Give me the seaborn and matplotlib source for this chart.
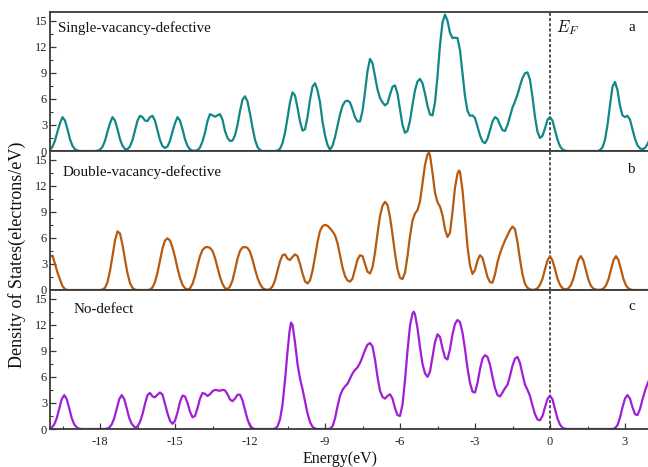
import numpy as np
import pandas as pd
import matplotlib
matplotlib.use("Agg")
import matplotlib.pyplot as plt
import seaborn as sns
from matplotlib.ticker import MultipleLocator

# ---------------- data ----------------
panel_names = ["Single-vacancy-defective", "Double-vacancy-defective", "No-defect"]
panel_letters = ["a", "b", "c"]

single_energy = [
    -20.0, -19.9, -19.8, -19.7, -19.6, -19.5, -19.4, -19.3, -19.2, -19.1, -19.0, -18.9, -18.8,
    -18.2, -18.1, -18.0, -17.9, -17.8, -17.7, -17.6, -17.5, -17.4, -17.3, -17.2, -17.1, -17.0,
    -16.9, -16.8, -16.7, -16.6, -16.5, -16.4, -16.3, -16.2, -16.1, -16.0, -15.9, -15.8, -15.7,
    -15.6, -15.5, -15.4, -15.3, -15.2, -15.1, -15.0, -14.9, -14.8, -14.7, -14.6, -14.5, -14.4,
    -14.3, -14.2, -14.1, -14.0, -13.9, -13.8, -13.7, -13.6, -13.5, -13.4, -13.3, -13.2, -13.1,
    -13.0, -12.9, -12.8, -12.7, -12.6, -12.5, -12.4, -12.3, -12.2, -12.1, -12.0, -11.9, -11.8,
    -11.7, -11.6, -11.5, -11.0, -10.9, -10.8, -10.7, -10.6, -10.5, -10.4, -10.3, -10.2, -10.1,
    -10.0, -9.9, -9.8, -9.7, -9.6, -9.5, -9.4, -9.3, -9.2, -9.1, -9.0, -8.9, -8.8, -8.7, -8.6,
    -8.5, -8.4, -8.3, -8.2, -8.1, -8.0, -7.9, -7.8, -7.7, -7.6, -7.5, -7.4, -7.3, -7.2, -7.1,
    -7.0, -6.9, -6.8, -6.7, -6.6, -6.5, -6.4, -6.3, -6.2, -6.1, -6.0, -5.9, -5.8, -5.7, -5.6,
    -5.5, -5.4, -5.3, -5.2, -5.1, -5.0, -4.9, -4.8, -4.7, -4.6, -4.5, -4.4, -4.3, -4.2, -4.1,
    -4.0, -3.9, -3.8, -3.7, -3.6, -3.5, -3.4, -3.3, -3.2, -3.1, -3.0, -2.9, -2.8, -2.7, -2.6,
    -2.5, -2.4, -2.3, -2.2, -2.1, -2.0, -1.9, -1.8, -1.7, -1.6, -1.5, -1.4, -1.3, -1.2, -1.1,
    -1.0, -0.9, -0.8, -0.7, -0.6, -0.5, -0.4, -0.3, -0.2, -0.1, 0.0, 0.1, 0.2, 0.3, 0.4, 0.5,
    0.6, 0.7, 1.9, 2.0, 2.1, 2.2, 2.3, 2.4, 2.5, 2.6, 2.7, 2.8, 2.9, 3.0, 3.1, 3.2, 3.3, 3.4,
    3.5, 3.6, 3.7, 3.8, 3.9, 4.0,
]
single_dos = [
    0.15, 0.48, 1.2, 2.25, 3.2, 3.9, 3.5, 2.5, 1.36, 0.58, 0.19, 0.05, 0.0,
    0.0, 0.04, 0.15, 0.48, 1.17, 2.25, 3.2, 3.9, 3.5, 2.5, 1.36, 0.6, 0.22,
    0.2, 0.53, 1.26, 2.38, 3.5, 4.05, 3.9, 3.5, 3.45, 3.9, 4.05, 3.48, 2.37,
    1.26, 0.55, 0.35, 0.52, 1.17, 2.25, 3.2, 3.9, 3.5, 2.5, 1.36, 0.58, 0.19,
    0.04, 0.03, 0.1, 0.4, 1.1, 2.1, 3.45, 4.25, 4.1, 3.95, 4.1, 4.25, 3.6,
    2.3, 1.5, 1.15, 1.2, 1.8, 3.0, 4.6, 5.9, 6.3, 5.7, 4.3, 2.7, 1.3,
    0.45, 0.1, 0.0, 0.0, 0.05, 0.25, 0.9, 2.1, 3.8, 5.6, 6.75, 6.4, 5.0,
    3.4, 2.35, 2.5, 3.9, 5.9, 7.4, 7.8, 7.0, 5.6, 3.4, 1.8, 0.7, 0.15, 0.6, 1.6,
    2.9, 4.2, 5.2, 5.7, 5.8, 5.6, 4.8, 3.9, 3.4, 3.4, 4.6, 6.8, 9.2, 10.6, 10.1,
    8.6, 7.1, 6.1, 5.6, 5.25, 5.5, 6.5, 7.4, 7.55, 6.6, 4.8, 3.0, 2.1, 2.3, 3.5,
    5.3, 7.0, 8.0, 8.3, 7.8, 6.6, 5.2, 4.2, 4.1, 5.6, 8.6, 12.2, 14.8, 15.7, 15.0,
    13.6, 13.0, 13.05, 13.0, 11.6, 9.0, 6.3, 4.6, 4.05, 4.1, 3.8, 2.8, 1.8, 1.1, 0.9,
    1.4, 2.4, 3.4, 3.9, 3.7, 3.0, 2.4, 2.3, 3.0, 4.0, 5.0, 5.7, 6.5, 7.5, 8.4,
    8.95, 9.05, 8.2, 6.2, 3.9, 2.2, 1.5, 1.75, 2.6, 3.6, 3.9, 3.5, 2.4, 1.3, 0.55, 0.18,
    0.04, 0.0, 0.0, 0.1, 0.4, 1.3, 3.0, 5.3, 7.4, 7.95, 7.0, 5.2, 4.1, 3.9, 4.05, 3.6, 2.5, 1.4,
    0.65, 0.3, 0.2, 0.35, 0.8, 1.4,
]

double_energy = [
    -20.0, -19.9, -19.8, -19.7, -19.6, -19.5, -19.4, -19.3, -18.0, -17.9, -17.8, -17.7, -17.6,
    -17.5, -17.4, -17.3, -17.2, -17.1, -17.0, -16.9, -16.8, -16.7, -16.6, -16.5, -16.1, -16.0,
    -15.9, -15.8, -15.7, -15.6, -15.5, -15.4, -15.3, -15.2, -15.1, -15.0, -14.9, -14.8, -14.7,
    -14.6, -14.5, -14.4, -14.3, -14.2, -14.1, -14.0, -13.9, -13.8, -13.7, -13.6, -13.5, -13.4,
    -13.3, -13.2, -13.1, -13.0, -12.9, -12.8, -12.7, -12.6, -12.5, -12.4, -12.3, -12.2, -12.1,
    -12.0, -11.9, -11.8, -11.7, -11.6, -11.5, -11.4, -11.3, -11.2, -11.1, -11.0, -10.9, -10.8,
    -10.7, -10.6, -10.5, -10.4, -10.3, -10.2, -10.1, -10.0, -9.9, -9.8, -9.7, -9.6, -9.5, -9.4,
    -9.3, -9.2, -9.1, -9.0, -8.9, -8.8, -8.7, -8.6, -8.5, -8.4, -8.3, -8.2, -8.1, -8.0, -7.9,
    -7.8, -7.7, -7.6, -7.5, -7.4, -7.3, -7.2, -7.1, -7.0, -6.9, -6.8, -6.7, -6.6, -6.5, -6.4,
    -6.3, -6.2, -6.1, -6.0, -5.9, -5.8, -5.7, -5.6, -5.5, -5.4, -5.3, -5.2, -5.1, -5.0, -4.9,
    -4.84, -4.8, -4.7, -4.6, -4.5, -4.4, -4.3, -4.2, -4.1, -4.0, -3.9, -3.8, -3.7, -3.64, -3.6,
    -3.5, -3.4, -3.3, -3.2, -3.1, -3.0, -2.9, -2.8, -2.7, -2.6, -2.5, -2.4, -2.3, -2.2, -2.1,
    -2.0, -1.9, -1.8, -1.7, -1.6, -1.5, -1.4, -1.3, -1.2, -1.1, -1.0, -0.9, -0.8, -0.7, -0.6,
    -0.5, -0.4, -0.3, -0.2, -0.1, 0.0, 0.1, 0.2, 0.3, 0.4, 0.5, 0.6, 0.73, 0.83, 0.93, 1.03,
    1.13, 1.23, 1.33, 1.43, 1.53, 1.63, 1.73, 1.84, 1.94, 2.04, 2.14, 2.24, 2.34, 2.44, 2.54,
    2.64, 2.74, 2.84, 2.94, 3.04, 3.14, 3.24, 3.34, 4.0,
]
double_dos = [
    3.85, 3.95, 3.0, 2.0, 1.2, 0.45, 0.1, 0.0, 0.0, 0.05, 0.25, 0.9, 2.2,
    3.9, 5.7, 6.75, 6.5, 5.2, 3.5, 1.9, 0.8, 0.25, 0.05, 0.0, 0.0, 0.05,
    0.3, 0.9, 2.0, 3.4, 4.8, 5.7, 5.95, 5.7, 4.9, 3.8, 2.5, 1.4, 0.6,
    0.2, 0.05, 0.2, 0.7, 1.6, 2.8, 3.9, 4.6, 4.9, 4.95, 4.85, 4.5, 3.7,
    2.6, 1.5, 0.7, 0.2, 0.1, 0.4, 1.1, 2.3, 3.6, 4.5, 4.9, 4.95, 4.85,
    4.4, 3.5, 2.4, 1.4, 0.7, 0.25, 0.07, 0.02, 0.1, 0.4, 1.1, 2.2, 3.3,
    4.0, 4.1, 3.6, 3.45, 3.8, 4.1, 3.9, 3.0, 1.9, 1.0, 0.75, 1.1, 2.2, 3.8,
    5.5, 6.8, 7.35, 7.5, 7.4, 7.1, 6.75, 6.3, 5.4, 4.0, 2.6, 1.6, 1.1, 0.96, 1.3,
    2.4, 3.5, 4.0, 3.9, 3.0, 2.1, 1.9, 2.6, 4.3, 6.5, 8.5, 9.7, 10.15, 9.8, 8.4,
    6.4, 4.2, 2.4, 1.4, 1.25, 2.0, 3.9, 6.2, 8.0, 8.8, 9.2, 10.2, 12.3, 14.4, 15.6,
    15.8, 15.5, 13.5, 11.2, 10.1, 9.6, 8.6, 7.0, 6.1, 6.6, 9.0, 11.8, 13.4, 13.75, 13.6,
    11.5, 8.2, 5.0, 2.8, 1.85, 2.3, 3.4, 4.0, 3.7, 2.6, 1.5, 0.9, 0.85, 1.8, 3.2,
    4.2, 5.0, 5.7, 6.3, 6.9, 7.3, 7.0, 5.5, 3.5, 1.8, 0.7, 0.25, 0.07, 0.01, 0.05,
    0.2, 0.6, 1.3, 2.4, 3.4, 3.9, 3.4, 2.4, 1.3, 0.6, 0.2, 0.08, 0.17, 0.53, 1.25, 2.37,
    3.44, 3.9, 3.44, 2.37, 1.25, 0.53, 0.17, 0.05, 0.02, 0.04, 0.17, 0.53, 1.25, 2.37, 3.44,
    3.9, 3.44, 2.37, 1.25, 0.53, 0.17, 0.04, 0.0, 0.0,
]

nodefect_energy = [
    -20.0, -19.93, -19.83, -19.73, -19.63, -19.53, -19.43, -19.33, -19.23, -19.13, -19.03,
    -18.93, -18.83, -18.73, -17.83, -17.73, -17.63, -17.53, -17.43, -17.33, -17.23, -17.13,
    -17.03, -16.93, -16.83, -16.73, -16.6, -16.5, -16.4, -16.3, -16.2, -16.1, -16.0, -15.9,
    -15.8, -15.7, -15.6, -15.5, -15.4, -15.3, -15.2, -15.1, -15.0, -14.9, -14.8, -14.7, -14.6,
    -14.5, -14.4, -14.3, -14.2, -14.1, -14.0, -13.9, -13.8, -13.7, -13.6, -13.5, -13.4, -13.3,
    -13.2, -13.1, -13.0, -12.9, -12.8, -12.7, -12.6, -12.5, -12.4, -12.3, -12.2, -12.1, -12.0,
    -11.9, -11.8, -11.1, -11.0, -10.9, -10.8, -10.7, -10.6, -10.5, -10.42, -10.36, -10.3,
    -10.2, -10.1, -10.0, -9.9, -9.8, -9.7, -9.6, -9.5, -9.4, -9.3, -8.9, -8.8, -8.7, -8.6,
    -8.5, -8.4, -8.3, -8.2, -8.1, -8.0, -7.9, -7.8, -7.7, -7.6, -7.5, -7.4, -7.3, -7.2, -7.1,
    -7.0, -6.9, -6.8, -6.7, -6.6, -6.5, -6.4, -6.3, -6.2, -6.1, -6.0, -5.9, -5.8, -5.7, -5.6,
    -5.5, -5.45, -5.4, -5.3, -5.2, -5.1, -5.0, -4.9, -4.8, -4.7, -4.6, -4.5, -4.4, -4.3, -4.2,
    -4.1, -4.0, -3.9, -3.8, -3.7, -3.6, -3.5, -3.4, -3.3, -3.2, -3.1, -3.0, -2.9, -2.8, -2.7,
    -2.6, -2.5, -2.4, -2.3, -2.2, -2.1, -2.0, -1.9, -1.8, -1.7, -1.6, -1.5, -1.4, -1.3, -1.2,
    -1.1, -1.0, -0.9, -0.8, -0.7, -0.6, -0.5, -0.4, -0.3, -0.2, -0.1, 0.0, 0.1, 0.2, 0.3,
    0.4, 0.5, 0.6, 0.7, 2.5, 2.6, 2.7, 2.8, 2.9, 3.0, 3.1, 3.2, 3.3, 3.4, 3.5, 3.6, 3.7,
    3.8, 3.9, 4.0,
]
nodefect_dos = [
    0.03, 0.17, 0.53, 1.25, 2.37, 3.44, 3.9, 3.44, 2.37, 1.25, 0.53,
    0.17, 0.04, 0.0, 0.0, 0.04, 0.17, 0.53, 1.25, 2.37, 3.44, 3.9,
    3.44, 2.37, 1.25, 0.6, 0.15, 0.3, 0.8, 1.7, 2.9, 3.9, 4.15, 3.75,
    3.65, 3.95, 4.2, 3.95, 2.9, 1.8, 0.95, 0.6, 0.95, 1.9, 3.1, 3.85, 3.75,
    3.0, 2.0, 1.35, 1.5, 2.4, 3.5, 4.15, 4.05, 3.8, 4.0, 4.35, 4.5, 4.45,
    4.4, 4.5, 4.45, 4.0, 3.4, 3.2, 3.5, 3.95, 3.95, 3.3, 2.2, 1.1, 0.4,
    0.1, 0.0, 0.0, 0.05, 0.3, 1.1, 2.8, 5.6, 8.9, 11.2, 12.25, 12.0,
    10.0, 7.5, 5.8, 4.6, 3.2, 1.8, 0.8, 0.25, 0.05, 0.0, 0.0, 0.05, 0.3, 1.2,
    2.6, 3.8, 4.5, 4.9, 5.2, 5.8, 6.4, 6.8, 7.1, 7.6, 8.3, 9.1, 9.7, 9.9, 9.5,
    8.0, 6.0, 4.4, 3.7, 3.5, 3.8, 4.0, 3.5, 2.4, 1.6, 1.5, 2.8, 5.6, 9.0, 11.9,
    13.3, 13.5, 13.2, 11.6, 9.4, 7.5, 6.4, 6.0, 6.6, 8.3, 10.0, 10.9, 10.6, 9.3, 8.2,
    8.0, 9.2, 10.9, 12.1, 12.55, 12.3, 11.1, 9.2, 7.0, 5.3, 4.3, 4.2, 5.3, 6.9, 8.1,
    8.5, 8.3, 7.4, 6.0, 4.7, 3.9, 3.75, 4.2, 4.7, 5.1, 6.1, 7.3, 8.1, 8.3, 7.6,
    6.3, 5.1, 4.5, 3.8, 2.7, 1.7, 1.1, 1.0, 1.5, 2.5, 3.45, 3.85, 3.4, 2.3, 1.2,
    0.5, 0.15, 0.03, 0.0, 0.0, 0.1, 0.45, 1.3, 2.5, 3.5, 3.9, 3.5, 2.5, 1.7, 1.6, 2.3, 3.4,
    4.4, 5.2, 5.9,
]

panel_energy = [single_energy, double_energy, nodefect_energy]
panel_dos = [single_dos, double_dos, nodefect_dos]
panel_colors = ["#138686", "#b65a10", "#a01fd6"]

x_ticks = [-18, -15, -12, -9, -6, -3, 0, 3]
y_ticks = [0, 3, 6, 9, 12, 15]

# ---------------- style ----------------
sns.set_style("ticks")
plt.rcParams["font.family"] = ["Liberation Serif", "DejaVu Serif"]
plt.rcParams["mathtext.fontset"] = "cm"
plt.rcParams["axes.unicode_minus"] = False

W, H = 648, 467
fig = plt.figure(figsize=(W / 100, H / 100), dpi=100)

left_px, right_px = 50, 650
top_px, bottom_px = 12.0, 429.0
panel_h = (bottom_px - top_px) / 3
spine_col = "#3a3a3a"

axes = []
for i in range(3):
    rect = [left_px / W, 1 - (top_px + (i + 1) * panel_h) / H,
            (right_px - left_px) / W, panel_h / H]
    ax = fig.add_axes(rect)
    axes.append(ax)
    df = pd.DataFrame({"Energy": panel_energy[i], "DOS": panel_dos[i]})
    sns.lineplot(data=df, x="Energy", y="DOS", ax=ax, color=panel_colors[i],
                 linewidth=1.6, sort=False, estimator=None)
    ax.axvline(0, color="#222222", linestyle=(0, (2.0, 1.4)), linewidth=1.1, zorder=1)
    ax.set_xlim(-20, 4)
    ax.set_ylim(0, 16)
    ax.set_xlabel("")
    ax.set_ylabel("")
    ax.set_yticks(y_ticks)
    ax.yaxis.set_minor_locator(MultipleLocator(1.5))
    ax.set_xticks(x_ticks)
    ax.xaxis.set_minor_locator(MultipleLocator(1.5))
    ax.tick_params(axis="both", which="both", direction="in", colors=spine_col,
                   labelcolor="#222222", labelsize=9)
    ax.tick_params(axis="y", which="major", length=4, width=0.9, pad=2)
    ax.tick_params(axis="y", which="minor", length=2.2, width=0.8)
    ax.tick_params(axis="x", which="major", length=4, width=0.9, pad=5)
    ax.tick_params(axis="x", which="minor", length=2.2, width=0.8)
    for s in ax.spines.values():
        s.set_color(spine_col)
        s.set_linewidth(1.3)
    if i < 2:
        ax.tick_params(axis="x", which="both", bottom=False, labelbottom=False)

# panel annotations
axes[0].text(-19.68, 14.1, panel_names[0], fontsize=10.8, va="center", ha="left", color="#111111")
axes[1].text(-19.48, 13.6, panel_names[1], fontsize=10.8, va="center", ha="left", color="#111111")
axes[2].text(-19.04, 13.8, panel_names[2], fontsize=10.8, va="center", ha="left", color="#111111")
axes[0].text(3.28, 14.2, panel_letters[0], fontsize=10.8, va="center", ha="center", color="#111111")
axes[1].text(3.28, 13.9, panel_letters[1], fontsize=10.8, va="center", ha="center", color="#111111")
axes[2].text(3.28, 14.1, panel_letters[2], fontsize=10.8, va="center", ha="center", color="#111111")
axes[0].text(0.25, 14.2, r"$E_F$", fontsize=12, va="center", ha="left", color="#111111")

fig.text(340 / W, 1 - 459 / H, "Energy(eV)", fontsize=11.5, ha="center", va="center", color="#111111")
fig.text(17 / W, 1 - 255 / H, "Density of States(electrons/eV)", fontsize=13, rotation=90,
         ha="center", va="center", color="#111111")

fig.savefig("out.png", dpi=100)
